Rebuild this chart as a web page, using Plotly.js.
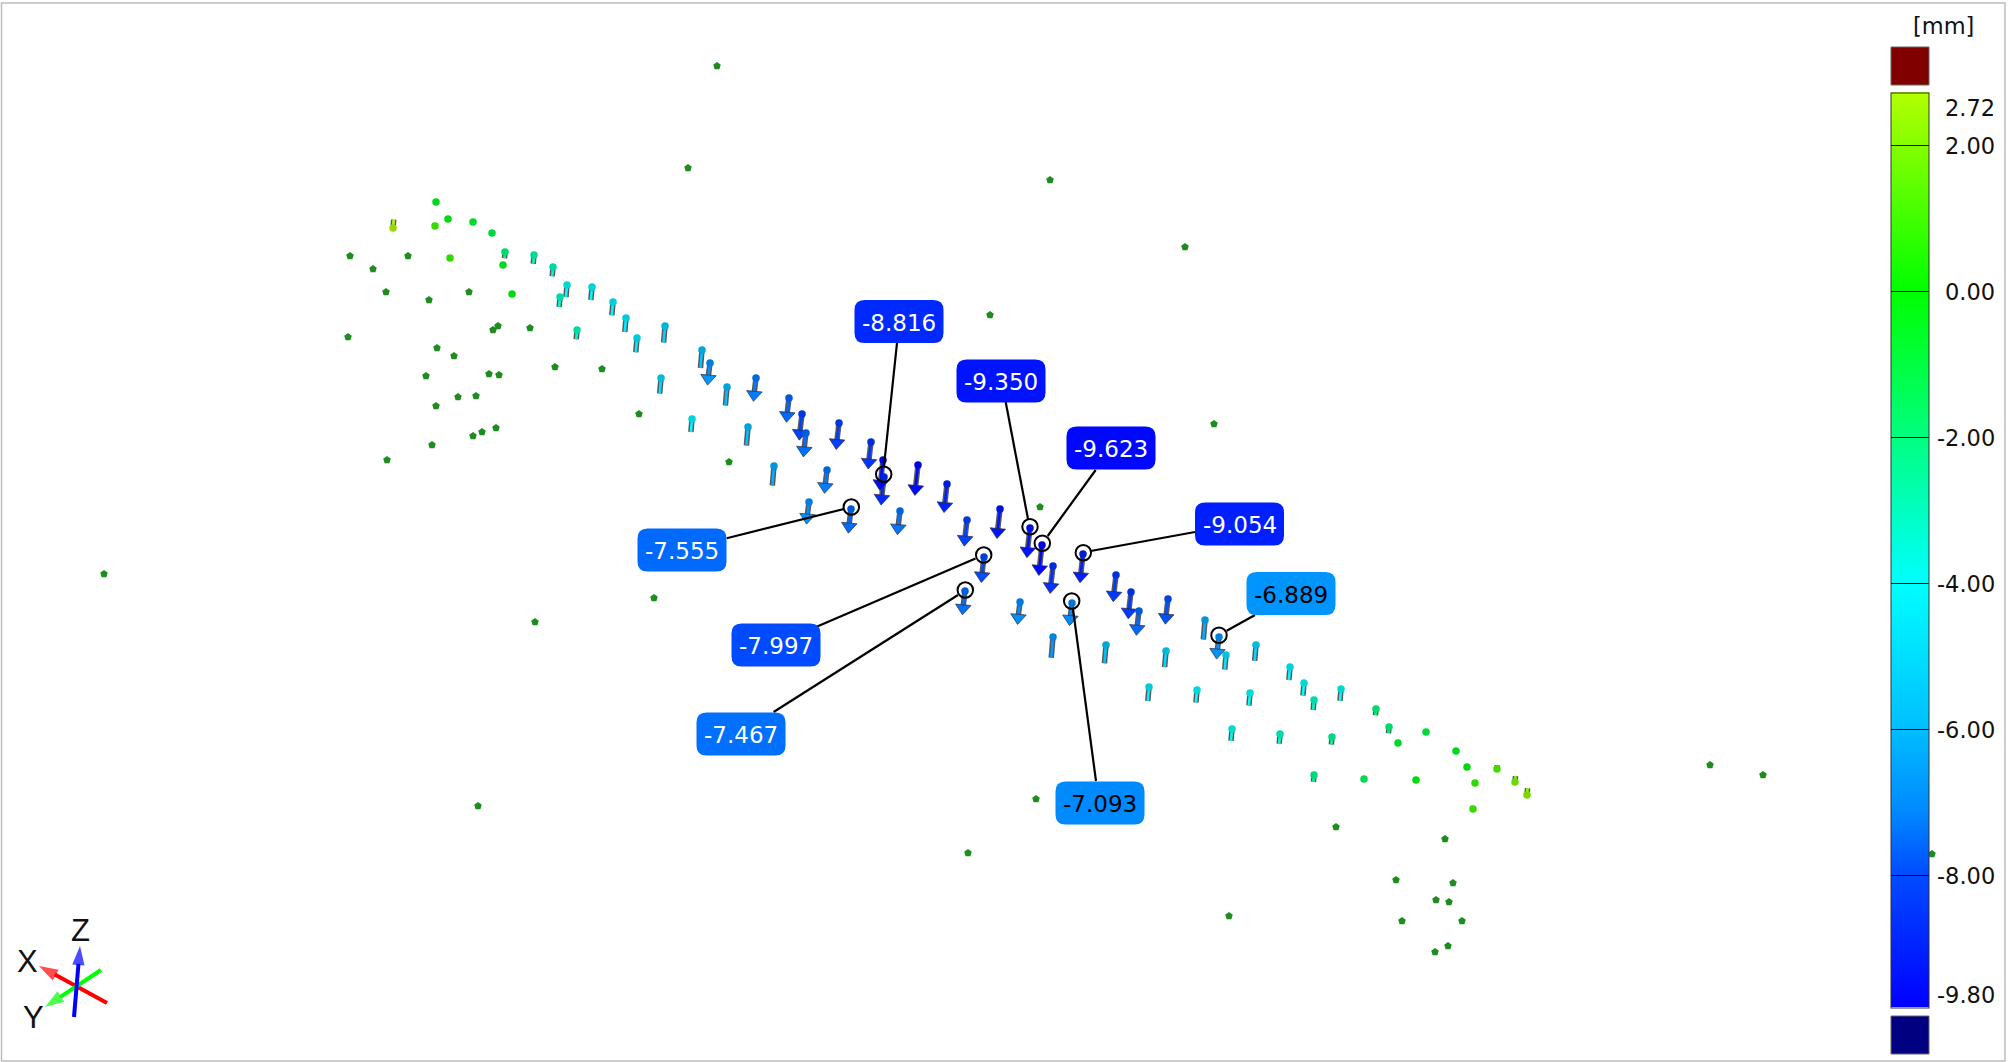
<!DOCTYPE html>
<html>
<head>
<meta charset="utf-8">
<script src="https://cdn.plot.ly/plotly-3.0.1.min.js"></script>
<style>html,body{margin:0;padding:0;background:#fff}#chart{width:2015px;height:1062px}</style>
</head>
<body>
<div id="chart"></div>
<script>
// Measured points: x, y on the view plane and deviation in mm
const measuredX = [436,393,435,448,473,492,505,534,553,450,503,512,567,560,592,613,626,665,637,577,661,702,710,727,756,789,802,806,839,692,748,774,827,871,883,884,918,809,851,900,947,967,1000,1030,1042,1053,1083,984,965,1020,1072,1116,1131,1139,1168,1205,1219,1053,1106,1166,1226,1256,1290,1149,1197,1250,1304,1341,1314,1232,1280,1332,1376,1389,1426,1398,1456,1467,1497,1515,1475,1527,1473,1314,1364,1416];
const measuredY = [202,228,226,219,222,233,252,255,267,258,265,294,285,297,287,302,318,326,338,330,378,350,363,387,378,398,414,433,423,419,427,466,470,442,460,477,465,502,509,511,484,520,509,528,545,566,554,557,591,602,603,575,592,611,599,620,637,637,645,651,655,645,667,687,690,693,683,689,700,729,734,737,709,727,732,743,751,767,769,782,783,795,809,775,779,780];
const deviation = [-0.5,2.7,1.0,-0.3,-0.8,-1.2,-2,-2.8,-3,0.8,-0.6,-0.2,-3.9,-3.2,-4.2,-4.3,-4.5,-5.3,-4.6,-3,-5,-5.8,-6.9,-6,-7.3,-7.6,-8.2,-7.5,-8.3,-4.2,-6,-6.3,-7.3,-8.5,-9.6,-8.816,-9.6,-6.9,-7.555,-7.4,-9,-8.2,-9.3,-9.35,-9.623,-8.6,-9.054,-7.997,-7.467,-7,-7.093,-8.4,-8.4,-7.6,-7.9,-6.3,-6.889,-6.7,-5.9,-5.2,-4.7,-5.1,-4.2,-4.5,-4,-4,-4,-3.8,-3.2,-3.8,-3.1,-2.4,-2,-2,-1,-0.7,-0.5,-0.3,1.2,1.9,0.8,2.2,1.0,-2.2,-1.5,-0.3];

// Points outside tolerance display (plain dark green)
const plainX = [350,373,408,386,429,469,493,498,530,348,437,454,555,602,426,489,499,458,476,436,639,496,482,473,432,387,729,1040,1336,1445,1396,1453,1436,1449,1402,1462,1448,1435,1229,717,688,1050,1185,990,1214,104,535,654,478,1036,968,1710,1763,1932];
const plainY = [256,269,256,292,300,292,330,326,328,337,348,356,367,369,376,374,375,397,396,406,414,428,432,436,445,460,462,507,827,839,880,883,900,902,921,921,946,952,916,66,168,180,247,315,424,574,622,598,806,799,853,765,775,854];

// Callouts
const calloutValue = [-8.816,-9.350,-9.623,-9.054,-6.889,-7.555,-7.997,-7.467,-7.093];
const calloutText = ["-8.816","-9.350","-9.623","-9.054","-6.889","-7.555","-7.997","-7.467","-7.093"];
const calloutBoxX = [899,1001,1111,1239.5,1291,682,776,741,1100];
const calloutBoxY = [321.5,381,448,524,593.5,550,645,734,803];
const calloutRingX = [883.7,1030,1042.3,1083.3,1219,851.3,983.7,965.3,1071.7];
const calloutRingY = [474.3,526.7,543.3,552.7,635.3,507,555,590,601];
const leaderStartX = [897,1005.7,1095.7,1195,1255,726.7,816,773.6,1096];
const leaderStartY = [343,402,470,532,615,538.3,627,712,781];
const leaderEndX = [884,1028,1047.7,1090.7,1226.7,844,975.5,958,1073];
const leaderEndY = [466,519,536,551,630.7,509,558.5,595,609];

// Colour legend
const scaleValues = [-9.8,-8,-7.1,-6,-4,0,2.72];
const scaleColors = [[0,0,255],[0,75,255],[0,138,255],[0,190,255],[0,255,255],[0,255,0],[180,255,0]];
const scaleTicks = [2,0,-2,-4,-6,-8];
const legendLabels = ["2.72","2.00","0.00","-2.00","-4.00","-6.00","-8.00","-9.80"];
const legendLabelY = [107.5,145.5,291.5,437.5,583.5,729.5,876,995];

// Orientation triad
const triadNames = ["X","Y","Z"];
const triadBaseX = [107,101,74];
const triadBaseY = [1003,970,1017];
const triadTipX = [39,45,80];
const triadTipY = [966,1007,946];
const triadColors = ["#ff0000","#00ff00","#0000ff"];
const triadLabelX = [27,33,80];
const triadLabelY = [961,1017,930];

const vMin = -9.8, vMax = 2.72;
function colorOf(v, k){
  k = k === undefined ? 1 : k;
  v = Math.max(vMin, Math.min(vMax, v));
  let i = 0;
  while (i < scaleValues.length - 2 && v > scaleValues[i+1]) i++;
  const t = (v - scaleValues[i]) / (scaleValues[i+1] - scaleValues[i]);
  const c = scaleColors[i].map((a, j) => Math.round((a + (scaleColors[i+1][j] - a) * t) * k));
  return `rgb(${c[0]},${c[1]},${c[2]})`;
}
const colorscale = scaleValues.map((v, i) => [(v - vMin) / (vMax - vMin), `rgb(${scaleColors[i].join(',')})`]);

const pxPerMm = 3.1, lean = 0.085;
const shaftOf = v => v < -1.5 || v > 0.7;
const headOf = v => v <= -6.85;
const endX = i => measuredX[i] + deviation[i] * pxPerMm * lean;
const endY = i => measuredY[i] - deviation[i] * pxPerMm;

const traces = [];
// Grey halo
const hx = [], hy = [];
measuredX.forEach((x, i) => { if (shaftOf(deviation[i])) { hx.push(x, endX(i), null); hy.push(measuredY[i], endY(i) - (headOf(deviation[i]) ? 7 : 0), null); } });
traces.push({type:'scatter', mode:'lines', x:hx, y:hy, line:{color:'rgba(45,45,55,0.8)', width:5.5}, hoverinfo:'skip', showlegend:false});
// Coloured shafts
measuredX.forEach((x, i) => {
  if (shaftOf(deviation[i])) traces.push({type:'scatter', mode:'lines', x:[x, endX(i)], y:[measuredY[i], endY(i) - (headOf(deviation[i]) ? 7 : 0)],
    line:{color:colorOf(deviation[i]), width:2.6}, hoverinfo:'skip', showlegend:false});
});
// Arrow heads (these carry the colour scale)
const headIdx = measuredX.map((_, i) => i).filter(i => headOf(deviation[i]));
traces.push({type:'scatter', mode:'markers',
  x: headIdx.map(i => endX(i)), y: headIdx.map(i => endY(i) - 6),
  marker:{symbol:'triangle-down', size:13.5, color: headIdx.map(i => deviation[i]), colorscale, cmin:vMin, cmax:vMax,
    angle: headIdx.map(() => 5), line:{color:'rgba(45,45,55,0.7)', width:1},
    colorbar:{x:1891/2015, xanchor:'left', xpad:0, y:(1062-1007.5)/1062, yanchor:'bottom', ypad:0,
      thicknessmode:'pixels', thickness:38, lenmode:'pixels', len:915,
      outlinecolor:'#333', outlinewidth:1, borderwidth:0, tickmode:'array', tickvals:scaleTicks,
      ticks:'inside', ticklen:38, tickcolor:'#000', tickwidth:1, showticklabels:false}},
  hoverinfo:'skip', showlegend:false});
// Dots
traces.push({type:'scatter', mode:'markers', x:measuredX, y:measuredY,
  marker:{symbol:'circle', size:7.5, color:deviation.map(v => colorOf(v, 0.85))}, hoverinfo:'skip', showlegend:false});
traces.push({type:'scatter', mode:'markers', x:plainX, y:plainY,
  marker:{symbol:'pentagon', size:8, color:'#1e8c1e'}, hoverinfo:'skip', showlegend:false});
// Leaders and rings
const lx = [], ly = [];
leaderStartX.forEach((x, i) => { lx.push(x, leaderEndX[i], null); ly.push(leaderStartY[i], leaderEndY[i], null); });
traces.push({type:'scatter', mode:'lines', x:lx, y:ly, line:{color:'#000', width:2.2}, hoverinfo:'skip', showlegend:false});
traces.push({type:'scatter', mode:'markers', x:calloutRingX, y:calloutRingY,
  marker:{symbol:'circle-open', size:15.5, color:'#000', line:{color:'#000', width:2}}, hoverinfo:'skip', showlegend:false});
// Triad
triadNames.forEach((n, i) => {
  traces.push({type:'scatter', mode:'lines+markers', x:[triadBaseX[i], triadTipX[i]], y:[triadBaseY[i], triadTipY[i]],
    line:{color:triadColors[i], width:4},
    marker:{symbol:['circle','arrow'], size:[0,20], angleref:'previous', color:triadColors[i], line:{width:0}},
    hoverinfo:'skip', showlegend:false});
});

// Rounded callout boxes
const boxW = 89, boxH = 43, r = 10;
const shapes = [
  {type:'rect', xref:'x', yref:'y', x0:1.5, x1:2005, y0:3, y1:1061, line:{color:'#bdbdbd', width:1.5}, layer:'below'},
  {type:'rect', xref:'x', yref:'y', x0:1891, x1:1929, y0:47, y1:85, fillcolor:'#800000', line:{color:'#666', width:1}},
  {type:'rect', xref:'x', yref:'y', x0:1891, x1:1929, y0:1016, y1:1054, fillcolor:'#000080', line:{color:'#666', width:1}}
];
calloutBoxX.forEach((cx, i) => {
  const cy = calloutBoxY[i], a = cx - boxW/2, b = cx + boxW/2, c = cy - boxH/2, d = cy + boxH/2;
  shapes.push({type:'path', xref:'x', yref:'y', layer:'above', fillcolor:colorOf(calloutValue[i]), line:{width:0},
    path:`M${a+r},${c} L${b-r},${c} Q${b},${c} ${b},${c+r} L${b},${d-r} Q${b},${d} ${b-r},${d} L${a+r},${d} Q${a},${d} ${a},${d-r} L${a},${c+r} Q${a},${c} ${a+r},${c} Z`});
});

const font = {family:'DejaVu Sans', size:22.5, color:'#111'};
const annotations = [];
calloutText.forEach((t, i) => annotations.push({xref:'x', yref:'y', x:calloutBoxX[i], y:calloutBoxY[i] + 1, text:t, showarrow:false,
  xanchor:'center', yanchor:'middle', font:{family:'DejaVu Sans', size:23, color: calloutValue[i] > -7.2 ? '#000' : '#fff'}}));
legendLabels.forEach((t, i) => annotations.push({xref:'x', yref:'y', x:1995, y:legendLabelY[i], text:t, showarrow:false,
  xanchor:'right', yanchor:'middle', xshift:2, font}));
annotations.push({xref:'x', yref:'y', x:1943, y:26, text:'[mm]', showarrow:false, xanchor:'center', yanchor:'middle', font});
triadNames.forEach((n, i) => annotations.push({xref:'x', yref:'y', x:triadLabelX[i], y:triadLabelY[i], text:n, showarrow:false,
  xanchor:'center', yanchor:'middle', font:{family:'Liberation Sans', size:31, color:'#111'}}));

Plotly.newPlot('chart', traces, {
  width:2015, height:1062, margin:{l:0, r:0, t:0, b:0, pad:0, autoexpand:false},
  paper_bgcolor:'#fff', plot_bgcolor:'#fff', showlegend:false, hovermode:false,
  xaxis:{range:[0,2015], visible:false, fixedrange:true},
  yaxis:{range:[1062,0], visible:false, fixedrange:true},
  shapes, annotations
}, {staticPlot:true, displayModeBar:false});
</script>
</body>
</html>
